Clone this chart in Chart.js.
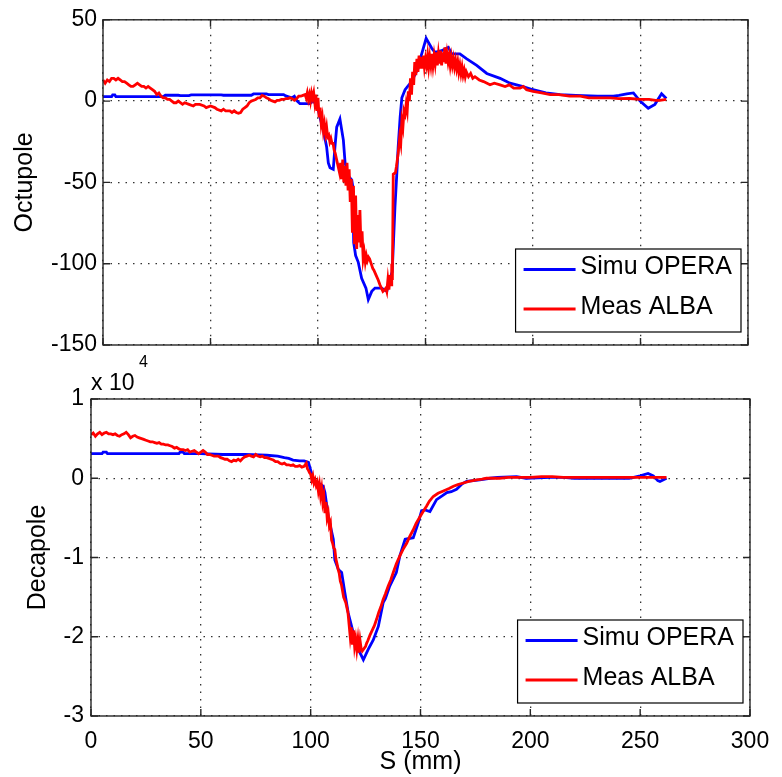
<!DOCTYPE html>
<html>
<head>
<meta charset="utf-8">
<title>Octupole / Decapole</title>
<script src="https://cdn.jsdelivr.net/npm/chart.js@4.4.0/dist/chart.umd.min.js"></script>
<style>
  body { margin: 0; background: #fff; }
  #wrap { position: relative; width: 782px; height: 777px; }
  canvas { position: absolute; left: 0; }
  #octCanvas { top: 0; }
  #decaCanvas { top: 340px; }
</style>
</head>
<body>
<div id="wrap">
  <canvas id="octCanvas" width="782" height="370"></canvas>
  <canvas id="decaCanvas" width="782" height="437"></canvas>
</div>
<script>
// Series labels
const seriesNames = ['Simu OPERA', 'Meas ALBA'];

// Axis ticks
const sTicks = [0, 50, 100, 150, 200, 250, 300];
const octTicks = [-150, -100, -50, 0, 50];
const decaTicks = [-30000, -20000, -10000, 0, 10000];

// Octupole, [S (mm), value]
const octupoleSimu = [
  [0, 2.7], [4, 2.7], [4.5, 3.8], [5.5, 3.8], [6, 2.7], [28, 2.7], [29, 3.6], [35, 3.6],
  [36, 3.4], [40, 3.4], [41, 3.8], [55, 3.8], [56, 3.6], [69, 3.6], [70, 4.4], [76, 4.4],
  [77, 4.0], [84, 4.0], [85, 3.2], [86, 2.8], [87.8, 2.0], [89, 3.0], [90, 0.5], [91.6, -1.6],
  [96.3, -1.6], [97.7, 0.4], [99, -2], [100.2, -6], [101.3, -12], [102.5, -18], [104, -28],
  [104.8, -38], [105.6, -41], [107.1, -42], [107.9, -28], [108.7, -16], [110.2, -11],
  [111.8, -24], [112.6, -38], [114, -46], [115.7, -48.5], [116.1, -52], [116.6, -87],
  [117.5, -95], [118.7, -99], [120.3, -109], [122.3, -115], [123.4, -122], [125, -117],
  [126.5, -115], [129.6, -115], [132, -117], [133.5, -109], [134.5, -105], [135, -90],
  [135.8, -65], [136.6, -46], [137.3, -28], [138.2, -10], [139, 2], [140.5, 7], [143.5, 12],
  [146.5, 20], [148, 28], [150.3, 38.6], [152.9, 32.5], [154.4, 30], [157.5, 31], [160.6, 33],
  [162.2, 29], [166, 29], [169.2, 26], [173.8, 22], [178.5, 17], [184.7, 14], [189.3, 11],
  [195, 9], [200, 7], [206, 5], [212.6, 4], [220, 3.5], [230, 3], [237.4, 3], [240, 3.5],
  [243.6, 4.5], [246.7, 5], [249.8, 0], [253.6, -4.4], [256.7, -2], [259.8, 4.5], [262, 1.6]
];

const octupoleMeas = [
  [0, 13], [1, 11], [2, 13], [3, 12], [4, 14], [5, 14], [6, 13], [7, 14], [8, 13], [9, 12],
  [10, 12], [11, 11], [12, 10], [13, 9], [14, 9], [15, 10], [16, 11], [17, 10], [18, 9],
  [19, 9], [20, 8], [21, 9], [22, 8], [23, 7], [24, 6], [25, 4], [26, 5], [27, 3], [28, 2],
  [29, 2], [30, 1], [31, 1], [32, 0], [33, -1], [34, -1], [35, 0], [36, -1], [37, -2],
  [38, -1], [40, -2], [42, -3], [43, -2], [45, -2], [47, -3], [48, -4], [50, -3], [52, -4],
  [53, -5], [55, -6], [56, -5], [57, -6], [59, -6], [60, -7], [61, -6], [62, -7], [63, -7.5],
  [64, -7], [65, -5], [66, -4], [67, -3], [68, -1], [69, 0], [70, 0.5], [71, 1], [72, 2],
  [73, 2], [74, 3.5], [75, 3], [76, 2], [77, 1.5], [78, 0.5], [79, 0], [80, -0.5], [81, 0.5],
  [82, 0.5], [83, 1], [84, 1], [85, 1.5], [86, 1.5], [87, 2], [88, 1.5], [89, 0.5], [90, 1.5],
  [91, 3], [92, 3], [93, 3.5], [94, 4], [94.5, 2], [95, 5], [95.5, 1], [96, 4], [96.5, 0],
  [97, 5], [97.5, 2], [98, 5], [98.5, -1], [99, 4], [99.5, -6], [100, 2], [100.5, -10],
  [101, -4], [101.5, -14], [102, -10], [102.5, -18], [103, -14], [103.5, -20], [104, -16],
  [104.5, -22], [105, -21], [105.5, -25], [106, -23], [106.5, -26], [107, -26], [107.5, -30],
  [108, -32], [108.5, -35], [109, -38], [109.5, -41], [110, -44], [110.5, -38], [111, -48],
  [111.5, -36], [112, -50], [112.5, -40], [113, -52], [113.5, -38], [114, -55], [114.5, -42],
  [115, -62], [115.5, -48], [116, -81], [116.5, -52], [117, -88], [117.5, -58], [118, -91],
  [118.5, -70], [119, -87], [119.5, -67], [120, -90], [120.5, -80], [121, -97], [121.5, -93],
  [122, -99], [122.5, -95], [123, -98], [123.5, -96], [124, -97], [124.5, -99], [125, -101],
  [125.5, -103], [126, -104], [127, -107], [128, -110], [128.8, -113], [129.5, -115],
  [130.2, -117], [131, -116], [131.6, -115], [132, -117], [132.5, -110], [133, -116],
  [133.5, -107], [134, -113], [134.3, -100], [134.6, -110], [135, -45], [136, -44],
  [136.5, -40], [137.3, -32], [138, -22], [138.5, -26], [139, -12], [139.5, -16], [140, -6],
  [140.5, -8], [141, -2], [141.5, -6], [142, 6], [142.5, 0], [143, 14], [143.5, 4], [144, 18],
  [144.5, 10], [145, 24], [145.5, 16], [146, 26], [146.5, 18], [147, 28], [147.5, 20],
  [148, 27], [148.5, 20], [149, 28], [149.5, 21], [150, 26], [150.5, 22], [151, 28],
  [151.5, 21], [152, 27], [152.5, 22], [153, 29], [153.5, 22], [154, 28], [154.5, 23],
  [155, 30], [155.5, 22], [156, 29], [156.5, 23], [157, 31], [157.5, 22], [158, 30],
  [158.5, 24], [159, 33], [159.5, 23], [160, 29], [160.5, 24], [161, 28], [161.5, 22],
  [162, 27], [162.5, 22], [163, 26], [163.5, 21], [164, 25], [164.5, 20], [165, 24],
  [165.5, 18], [166, 22], [166.5, 17], [167, 21], [167.5, 16], [168, 19], [168.5, 15],
  [169, 18], [170, 15], [171, 17], [172, 14], [173, 15], [175, 13], [177, 12], [180, 10],
  [182, 11], [184.7, 10], [187, 9], [189, 10], [191, 8], [194, 8], [195.5, 9], [197, 7],
  [200, 6], [204, 5], [208, 4], [212, 4], [217, 3], [222, 3], [226, 2], [231, 2], [236, 2],
  [240, 1.5], [245, 1.6], [250, 1], [254, 1], [257, 0.5], [259, 0.5], [262, 1]
];

// Decapole, [S (mm), value]
const decapoleSimu = [
  [0, 3100], [5, 3100], [5.5, 3300], [7, 3300], [7.5, 3100], [40, 3100], [40.5, 3300],
  [42, 3300], [42.5, 3100], [50, 3100], [60, 3000], [70, 3000], [80, 2900], [85, 2800],
  [88, 2600], [90, 2500], [92, 2300], [95, 2200], [97, 2200], [99, 2000], [101.2, -200],
  [103.5, -600], [105.7, -1000], [106.5, -1800], [108, -4800], [110.3, -7700], [111, -10300],
  [112.6, -11500], [114.1, -11900], [115.6, -14500], [117.1, -17000], [119.4, -19500],
  [121.7, -21600], [124, -22900], [126.2, -21600], [128.5, -20400], [130.8, -18700],
  [133, -15700], [134, -15200], [136, -13600], [139, -11900], [140.6, -9800], [143, -7700],
  [146.7, -7500], [149, -5600], [150.5, -4100], [152, -4000], [154.3, -4200], [157.3, -2700],
  [160, -2200], [162, -1800], [164, -1700], [166.4, -1400], [169, -700], [171, -400],
  [177, -200], [181.6, 0], [185, 100], [193.7, 200], [198, 0], [209, 100], [215, 100],
  [220, 0], [239, 0], [245, 0], [250, 300], [253.6, 600], [256, 300], [258, -300],
  [259, -400], [262, 0]
];

const decapoleMeas = [
  [0, 5500], [1, 5700], [2, 5300], [3, 5600], [4, 5800], [5, 5500], [6, 5700], [7, 5800],
  [8, 5600], [9, 5600], [10, 5500], [11, 5600], [12, 5400], [13, 5300], [14, 5500],
  [15, 5600], [16, 5800], [17, 5500], [18, 5100], [19, 5300], [20, 5400], [21, 5200],
  [22, 5100], [23, 5000], [24, 4900], [25, 4800], [26, 4700], [27, 4600], [28, 4600],
  [29, 4500], [30, 4400], [31, 4500], [32, 4300], [33, 4300], [34, 4200], [35, 4200],
  [36, 4100], [37, 4000], [38, 3800], [39, 3900], [40, 3700], [41, 3600], [42, 3600],
  [43, 3500], [44, 3600], [45, 3300], [46, 3400], [47, 3500], [48, 3300], [49, 3100],
  [50, 3300], [51, 3500], [52, 3300], [53, 3000], [54, 3000], [55, 2900], [56, 2800],
  [57, 2800], [58, 2800], [59, 2600], [60, 2500], [61, 2400], [62, 2400], [63, 2200],
  [64, 2100], [65, 2300], [66, 2200], [67, 2400], [68, 2200], [69, 2500], [70, 2700],
  [71, 2800], [72, 2900], [73, 2800], [74, 2700], [75, 3000], [76, 2800], [77, 2700],
  [78, 2800], [79, 2600], [80, 2600], [81, 2500], [82, 2400], [83, 2300], [84, 2100],
  [85, 2100], [86, 1900], [87, 1800], [88, 1900], [89, 1700], [90, 1700], [91, 1600],
  [92, 1700], [93, 1500], [94, 1500], [95, 1600], [96, 1400], [97, 1500], [98, 1900],
  [98.5, 1200], [99, 1000], [99.5, 700], [100, 500], [100.5, -200], [101, 300], [101.5, -600],
  [102, -200], [102.5, -900], [103, -500], [103.5, -1600], [104, -800], [104.5, -2200],
  [105, -1300], [105.5, -3000], [106, -2200], [106.5, -4400], [107, -3000], [107.5, -5000],
  [108, -4400], [108.5, -6000], [109, -5600], [109.5, -7800], [110, -8200], [110.5, -8800],
  [111, -9000], [111.5, -10200], [112, -10800], [112.5, -11500], [113, -12000],
  [113.5, -13000], [114, -13400], [114.5, -14200], [115, -15000], [116, -15700],
  [117, -17000], [117.5, -18500], [118, -20000], [118.5, -18800], [119, -21000],
  [119.5, -19200], [120, -21200], [120.5, -20300], [121, -21600], [121.5, -20400],
  [122, -22000], [122.5, -20500], [123, -21500], [123.5, -21800], [124, -21600],
  [125, -21200], [125.5, -20800], [126, -20500], [127, -19800], [128, -19200], [129, -18600],
  [130, -17800], [131, -16900], [132, -16200], [133, -15300], [134, -14600], [135.3, -13600],
  [136.5, -12800], [137.6, -11900], [139, -10800], [140.6, -9800], [142, -9000],
  [143.7, -8200], [145, -7400], [146.7, -6500], [148, -5700], [149.7, -4900], [151, -4300],
  [152.8, -3500], [154, -2900], [155.8, -2300], [158, -1900], [160.4, -1600], [163, -1300],
  [165, -1000], [167, -800], [169.5, -600], [172, -400], [175.6, -200], [178, -100],
  [180, 0], [186, 0], [190, 100], [195, 100], [200, 100], [205, 200], [210, 200], [215, 100],
  [220, 100], [230, 100], [240, 100], [250, 100], [255, 100], [258, 100], [262, 100]
];

const FONT = '"Liberation Sans", Arial, Helvetica, sans-serif';
const BLUE = '#0000ff';
const RED = '#ff0000';
const LINE_W = 2.8;

function toPoints(pairs) {
    return pairs.map(p => ({ x: p[0], y: p[1] }));
}

// box around the axes plus MATLAB style inward tick marks
const framePlugin = {
    id: 'matlabFrame',
    afterDatasetsDraw(chart) {
        const { ctx, chartArea: a, scales } = chart;
        ctx.save();
        ctx.strokeStyle = '#262626';
        ctx.lineWidth = 1.4;
        ctx.strokeRect(a.left, a.top, a.right - a.left, a.bottom - a.top);
        const len = 7;
        ctx.beginPath();
        scales.x.ticks.forEach(t => {
            const px = scales.x.getPixelForValue(t.value);
            ctx.moveTo(px, a.bottom); ctx.lineTo(px, a.bottom - len);
            ctx.moveTo(px, a.top); ctx.lineTo(px, a.top + len);
        });
        scales.y.ticks.forEach(t => {
            const py = scales.y.getPixelForValue(t.value);
            ctx.moveTo(a.left, py); ctx.lineTo(a.left + len, py);
            ctx.moveTo(a.right, py); ctx.lineTo(a.right - len, py);
        });
        ctx.stroke();
        ctx.restore();
    }
};

// legend box in the lower right corner of the axes
const boxLegendPlugin = {
    id: 'boxLegend',
    afterDraw(chart) {
        const { ctx, chartArea: a } = chart;
        const sets = chart.data.datasets;
        ctx.save();
        ctx.font = '25px ' + FONT;
        const textW = Math.max(...sets.map(d => ctx.measureText(d.label).width));
        const w = 8 + 52 + 5 + textW + 9;
        const h = 83;
        const x0 = a.right - 7 - w;
        const y0 = a.bottom - 13 - h;
        ctx.fillStyle = '#fff';
        ctx.fillRect(x0, y0, w, h);
        ctx.strokeStyle = '#000';
        ctx.lineWidth = 1.2;
        ctx.strokeRect(x0, y0, w, h);
        const rows = [20.5, 60];
        sets.forEach((d, i) => {
            const ly = y0 + rows[i];
            ctx.strokeStyle = d.borderColor;
            ctx.lineWidth = LINE_W;
            ctx.beginPath();
            ctx.moveTo(x0 + 8, ly);
            ctx.lineTo(x0 + 60, ly);
            ctx.stroke();
            ctx.fillStyle = '#000';
            ctx.textBaseline = 'alphabetic';
            ctx.fillText(d.label, x0 + 65, ly + 4.5);
        });
        ctx.restore();
    }
};

// "x 10^4" multiplier above the decapole axis
const exponentPlugin = {
    id: 'exponentLabel',
    afterDraw(chart) {
        const { ctx, chartArea: a } = chart;
        ctx.save();
        ctx.fillStyle = '#000';
        ctx.textBaseline = 'alphabetic';
        ctx.font = '23px ' + FONT;
        ctx.fillText('x 10', a.left, a.top - 9);
        ctx.font = '16px ' + FONT;
        ctx.fillText('4', a.left + 48, a.top - 32);
        ctx.restore();
    }
};

function makeDatasets(simu, meas) {
    return [
        {
            label: seriesNames[0],
            data: toPoints(simu),
            borderColor: BLUE,
            borderWidth: LINE_W,
            pointRadius: 0,
            tension: 0,
            order: 2
        },
        {
            label: seriesNames[1],
            data: toPoints(meas),
            borderColor: RED,
            borderWidth: LINE_W,
            pointRadius: 0,
            tension: 0,
            order: 1
        }
    ];
}

function gridOpts() {
    return { color: '#333', lineWidth: 1.3, drawTicks: false };
}

function borderOpts() {
    return { display: false, dash: [1.5, 6] };
}

// Top: octupole
new Chart(document.getElementById('octCanvas'), {
    type: 'line',
    data: { datasets: makeDatasets(octupoleSimu, octupoleMeas) },
    options: {
        responsive: false,
        animation: false,
        devicePixelRatio: 1,
        layout: { padding: { top: 15, right: 34, left: 0, bottom: 0 } },
        plugins: { legend: { display: false }, tooltip: { enabled: false } },
        scales: {
            x: {
                type: 'linear',
                min: sTicks[0],
                max: sTicks[sTicks.length - 1],
                afterBuildTicks: axis => { axis.ticks = sTicks.map(v => ({ value: v })); },
                ticks: { display: false },
                grid: gridOpts(),
                border: borderOpts(),
                afterFit: axis => { axis.height = 25; }
            },
            y: {
                min: octTicks[0],
                max: octTicks[octTicks.length - 1],
                afterBuildTicks: axis => { axis.ticks = octTicks.map(v => ({ value: v })); },
                ticks: { color: '#000', padding: 6, font: { family: FONT, size: 23 } },
                grid: gridOpts(),
                border: borderOpts(),
                title: {
                    display: true,
                    text: 'Octupole',
                    color: '#000',
                    font: { family: FONT, size: 25, lineHeight: 1.2 },
                    padding: { top: 10, bottom: 0 }
                },
                afterFit: axis => { axis.width = 103; }
            }
        }
    },
    plugins: [framePlugin, boxLegendPlugin]
});

// Bottom: decapole
new Chart(document.getElementById('decaCanvas'), {
    type: 'line',
    data: { datasets: makeDatasets(decapoleSimu, decapoleMeas) },
    options: {
        responsive: false,
        animation: false,
        devicePixelRatio: 1,
        layout: { padding: { top: 59, right: 32, left: 0, bottom: 0 } },
        plugins: { legend: { display: false }, tooltip: { enabled: false } },
        scales: {
            x: {
                type: 'linear',
                min: sTicks[0],
                max: sTicks[sTicks.length - 1],
                afterBuildTicks: axis => { axis.ticks = sTicks.map(v => ({ value: v })); },
                ticks: { color: '#000', padding: 12, maxRotation: 0, font: { family: FONT, size: 23 } },
                grid: gridOpts(),
                border: borderOpts(),
                title: {
                    display: true,
                    text: 'S (mm)',
                    color: '#000',
                    font: { family: FONT, size: 25, lineHeight: 1.2 },
                    padding: { top: 0, bottom: 0 }
                },
                afterFit: axis => { axis.height = 61; }
            },
            y: {
                min: decaTicks[0],
                max: decaTicks[decaTicks.length - 1],
                afterBuildTicks: axis => { axis.ticks = decaTicks.map(v => ({ value: v })); },
                ticks: {
                    color: '#000',
                    padding: 7,
                    font: { family: FONT, size: 23 },
                    callback: v => String(v / 10000)
                },
                grid: gridOpts(),
                border: borderOpts(),
                title: {
                    display: true,
                    text: 'Decapole',
                    color: '#000',
                    font: { family: FONT, size: 25, lineHeight: 1.2 },
                    padding: { top: 23, bottom: 0 }
                },
                afterFit: axis => { axis.width = 91; }
            }
        }
    },
    plugins: [framePlugin, boxLegendPlugin, exponentPlugin]
});
</script>
</body>
</html>
